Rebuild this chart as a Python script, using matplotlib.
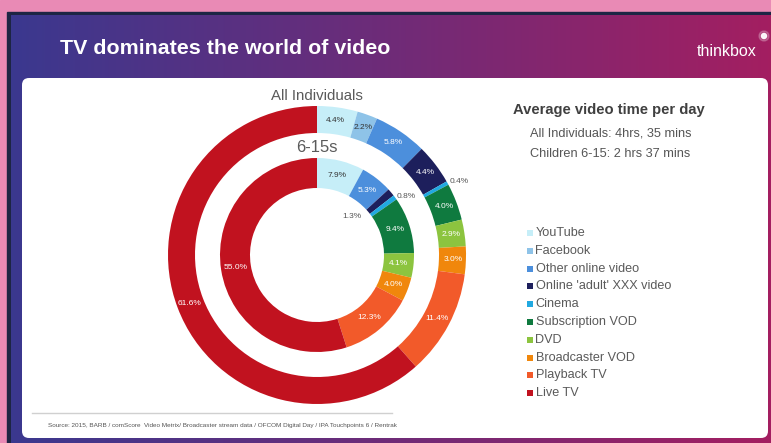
import numpy as np
import matplotlib
matplotlib.use("Agg")
from matplotlib import pyplot as plt
from matplotlib.patches import Rectangle, FancyBboxPatch, Circle

plt.rcParams['font.family'] = ['Liberation Sans', 'DejaVu Sans']

# data
categories = ['YouTube', 'Facebook', 'Other online video', "Online 'adult' XXX video",
              'Cinema', 'Subscription VOD', 'DVD', 'Broadcaster VOD', 'Playback TV', 'Live TV']
all_individuals = [4.4, 2.2, 5.8, 4.4, 0.4, 4.0, 2.9, 3.0, 11.4, 61.6]
kids_6_15 = [7.9, 0.0, 5.3, 1.3, 0.8, 9.4, 4.1, 4.0, 12.3, 55.0]
colors = ['#c6eef8', '#8ec3e8', '#4c8fdc', '#1d1f5c', '#21a9e1',
          '#0f7a3f', '#8cc43f', '#f0870c', '#f25a2a', '#c1121f']
dark_text = ['YouTube', 'Facebook']

W, H = 771, 443
fig = plt.figure(figsize=(W / 100, H / 100), dpi=100)

# background in pixel coords
bg = fig.add_axes([0, 0, 1, 1])
bg.set_xlim(0, W)
bg.set_ylim(H, 0)
bg.axis('off')
bg.add_patch(Rectangle((0, 0), W, H, color='#e98ab5', zorder=0))
bg.add_patch(Rectangle((7, 12), W, H, color='#1d2544', zorder=1))
grad = np.linspace(0, 1, 256)[None, :, None]
c0 = np.array([0.23, 0.22, 0.56])
c1 = np.array([0.64, 0.12, 0.38])
img = c0 + (c1 - c0) * grad
bg.imshow(img, extent=(11, W, H, 15), aspect='auto', zorder=2)
bg.add_patch(FancyBboxPatch((22, 78), 746, 360, boxstyle='round,pad=0,rounding_size=7',
                            fc='white', ec='none', zorder=3))
bg.set_xlim(0, W)
bg.set_ylim(H, 0)

bg.text(60, 48, 'TV dominates the world of video', color='white', fontsize=15.4,
        fontweight='bold', va='center', ha='left', zorder=5)
bg.text(697, 51, 'thinkbox', color='white', fontsize=11.5, va='center', ha='left', zorder=5)
bg.add_patch(Circle((764, 36), 2.5, color='white', alpha=0.95, zorder=5))
bg.add_patch(Circle((764, 36), 5, color='white', alpha=0.2, zorder=5))

bg.text(317, 96, 'All Individuals', color='#5a5a5a', fontsize=10.8, ha='center', va='center', zorder=5)
bg.text(317, 148, '6-15s', color='#5a5a5a', fontsize=12, ha='center', va='center', zorder=5)

bg.text(513, 110, 'Average video time per day', color='#404040', fontsize=10.6,
        fontweight='bold', ha='left', va='center', zorder=5)
bg.text(530, 133, 'All Individuals: 4hrs, 35 mins', color='#555555', fontsize=9.2,
        ha='left', va='center', zorder=5)
bg.text(530, 154, 'Children 6-15: 2 hrs 37 mins', color='#555555', fontsize=9.2,
        ha='left', va='center', zorder=5)

# legend
for i, (cat, col) in enumerate(zip(categories, colors)):
    y = 233 + i * 17.8
    bg.scatter([529.5], [y], marker='s', s=13, color=col, linewidths=0, zorder=5)
    bg.text(535.5, y, cat, color='#5a5a5a', fontsize=9.1, ha='left', va='center', zorder=5)

bg.plot([32, 392], [413, 413], color='#d0d0d0', lw=1, zorder=5)
bg.text(48, 425, 'Source: 2015, BARB / comScore  Video Metrix/ Broadcaster stream data / '
        'OFCOM Digital Day / IPA Touchpoints 6 / Rentrak',
        color='#555555', fontsize=4.55, ha='left', va='center', zorder=5)

# donuts
cx, cy = 317, 255
ax = fig.add_axes([(cx - 150) / W, (H - cy - 150) / H, 300 / W, 300 / H])
ax.pie(all_individuals, colors=colors, radius=149, startangle=90, counterclock=False,
       wedgeprops=dict(width=27, edgecolor='none'))
ax.pie(kids_6_15, colors=colors, radius=97, startangle=90, counterclock=False,
       wedgeprops=dict(width=30, edgecolor='none'))
ax.set_xlim(-150, 150)
ax.set_ylim(-150, 150)
ax.set_aspect('auto')
ax.axis('off')

# label tweaks for tiny slices: (radius, angle shift in degrees)
outer_special = {'Cinema': (160, 1.5)}
inner_special = {"Online 'adult' XXX video": (52, -7), 'Cinema': (107, 3)}


def add_labels(values, r_mid, special):
    total = sum(values)
    start = 0.0
    for cat, v in zip(categories, values):
        if v <= 0:
            continue
        mid = (start + v / 2) / total * 360
        start += v
        r, shift, col = r_mid, 0, 'white'
        if cat in dark_text:
            col = '#333333'
        if cat in special:
            r, shift = special[cat]
            col = '#555555'
        a = np.radians(mid + shift)
        ax.text(r * np.sin(a), r * np.cos(a), f'{v:.1f}%', color=col, fontsize=6,
                ha='center', va='center')


add_labels(all_individuals, 136, outer_special)
add_labels(kids_6_15, 82, inner_special)

fig.savefig('out.png', dpi=100)
